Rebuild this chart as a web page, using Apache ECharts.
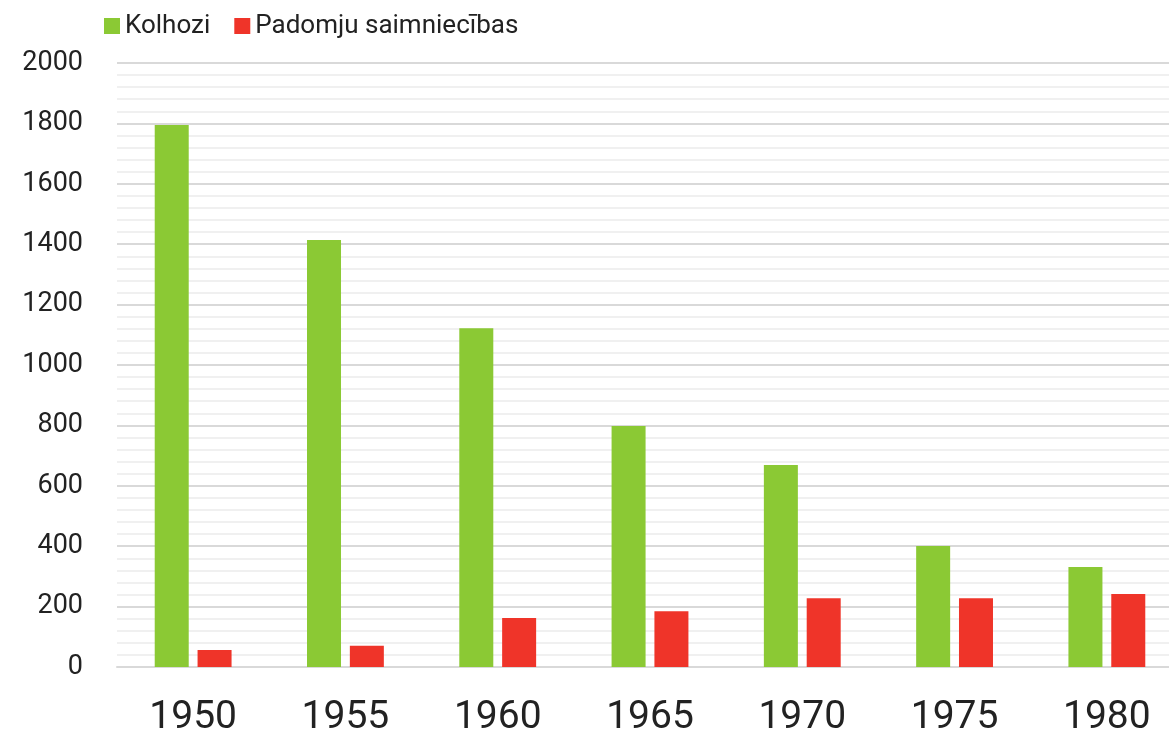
<!DOCTYPE html>
<html>
<head>
<meta charset="utf-8">
<script src="https://cdn.jsdelivr.net/npm/echarts@6/dist/echarts.min.js"></script>
<style>
    html, body {margin: 0; padding: 0; background: #fff;}
    #chart {width: 1169px; height: 733px;}
</style>
</head>
<body>
<div id="chart"></div>
<script>
const years = ['1950', '1955', '1960', '1965', '1970', '1975', '1980'];
const kolhozi = [1795, 1414, 1122, 798, 669, 401, 331];
const padomju = [56, 70, 162, 185, 228, 228, 242];
const yTicks = [0, 200, 400, 600, 800, 1000, 1200, 1400, 1600, 1800, 2000];

const chart = echarts.init(document.getElementById('chart'));
const font = 'Roboto, "Noto Sans", sans-serif';

chart.setOption({
    animation: false,
    textStyle: {fontFamily: font},
    legend: {
        left: 99, top: 8,
        itemWidth: 16, itemHeight: 16, itemGap: 24,
        icon: 'rect',
        textStyle: {fontSize: 26, color: '#222', fontFamily: font},
        data: ['Kolhozi', 'Padomju saimniecības']
    },
    grid: {left: 117, right: -14, top: 63, bottom: 66, outerBoundsMode: 'none'},
    xAxis: {
        type: 'category',
        data: years,
        axisLine: {lineStyle: {color: '#d9d9d9', width: 2}},
        axisTick: {show: false},
        axisLabel: {fontSize: 39, color: '#222', margin: 32, fontFamily: font}
    },
    yAxis: {
        type: 'value',
        min: yTicks[0], max: yTicks[yTicks.length - 1], interval: 200,
        axisLine: {show: false},
        axisTick: {show: false},
        axisLabel: {fontSize: 27, color: '#222', margin: 34, fontFamily: font,
            formatter: v => String(v)},
        splitLine: {lineStyle: {color: '#d9d9d9', width: 2}},
        minorTick: {show: false, splitNumber: 5},
        minorSplitLine: {show: true, lineStyle: {color: '#f0f0f0', width: 2}}
    },
    series: [
        {
            name: 'Kolhozi', type: 'bar', data: kolhozi,
            barWidth: 34, barGap: '26%',
            itemStyle: {color: '#8BC934'}
        },
        {
            name: 'Padomju saimniecības', type: 'bar', data: padomju,
            barWidth: 34,
            itemStyle: {color: '#EF3429'}
        }
    ]
});
</script>
</body>
</html>
